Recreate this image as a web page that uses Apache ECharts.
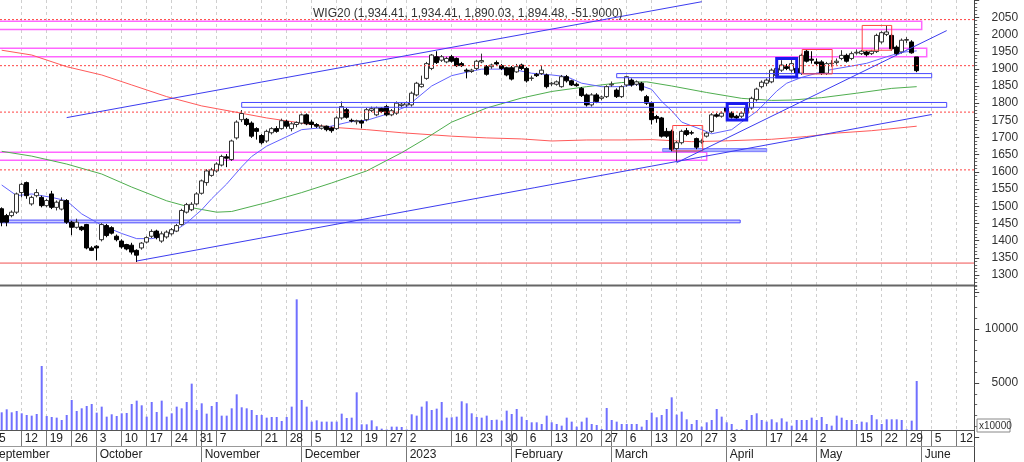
<!DOCTYPE html>
<html><head><meta charset="utf-8">
<script src="https://cdn.jsdelivr.net/npm/echarts@6/dist/echarts.min.js"></script>
<style>html,body{margin:0;padding:0;background:#fff}#c{width:1024px;height:462px}</style>
</head><body><div id="c"></div>
<script>
// ---------- categories (trading days) ----------
const holidays = ['2022-11-01','2022-11-11','2022-12-26','2023-01-06','2023-04-07','2023-04-10','2023-05-01','2023-05-03'];
function buildDates(from, to){
  const out=[]; const d=new Date(from+'T12:00:00Z'); const end=new Date(to+'T12:00:00Z');
  while(d<=end){ const w=d.getUTCDay(); const s=d.toISOString().slice(0,10);
    if(w!==0&&w!==6&&!holidays.includes(s)) out.push(s); d.setUTCDate(d.getUTCDate()+1); }
  return out;
}
// visible window starts 2022-09-06; the data arrays below start one trading day earlier (2022-09-05)
const dates = buildDates('2022-09-06','2023-06-15');
const OFF = -1;

// week tick labels (day of month) and month labels
const weekTicks = ['2022-09-12','2022-09-19','2022-09-26','2022-10-03','2022-10-10','2022-10-17','2022-10-24','2022-10-31','2022-11-07','2022-11-21','2022-11-28','2022-12-05','2022-12-12','2022-12-19','2022-12-27','2023-01-02','2023-01-16','2023-01-23','2023-01-30','2023-02-06','2023-02-13','2023-02-20','2023-02-27','2023-03-06','2023-03-13','2023-03-20','2023-03-27','2023-04-03','2023-04-17','2023-04-24','2023-05-02','2023-05-15','2023-05-22','2023-05-29','2023-06-05','2023-06-12'];
const monthStarts = ['2022-10-03','2022-11-02','2022-12-01','2023-01-02','2023-02-01','2023-03-01','2023-04-03','2023-05-02','2023-06-01'];
const monthLabels = ['October','November','December','2023','February','March','April','May','June'];
const firstWeekLabel = '5', firstMonthLabel = 'September'; // week of 2022-09-05, month starting before the window

const titleText = 'WIG20 (1,934.41, 1,934.41, 1,890.03, 1,894.48, -51.9000)';

// ---------- candles [open, high, low, close] from 2022-09-05 ----------
const candles = [
[1500,1505,1485,1495],[1493,1497,1442,1454],[1473,1478,1442,1454],[1473,1488,1468,1483],[1483,1540,1478,1536],
[1540,1568,1526,1564],[1569,1572,1522,1531],[1507,1531,1502,1526],[1531,1550,1526,1540],[1526,1531,1497,1502],
[1502,1521,1497,1517],[1536,1545,1492,1497],[1497,1517,1488,1512],[1492,1526,1488,1517],[1517,1521,1449,1454],
[1454,1458,1416,1439],[1439,1464,1435,1454],[1440,1443,1428,1432],[1447,1449,1375,1379],[1379,1384,1370,1372],
[1384,1387,1343,1379],[1403,1451,1398,1447],[1444,1449,1410,1415],[1438,1442,1418,1422],[1413,1418,1398,1403],
[1399,1404,1377,1382],[1389,1391,1372,1376],[1387,1394,1360,1367],[1372,1375,1338,1358],[1379,1396,1374,1393],
[1396,1413,1392,1409],[1413,1433,1408,1427],[1428,1432,1404,1409],[1399,1427,1394,1420],[1411,1430,1406,1425],
[1420,1437,1415,1432],[1428,1449,1425,1444],[1447,1493,1444,1488],[1483,1510,1479,1505],[1490,1512,1486,1506],
[1507,1541,1503,1536],[1538,1578,1534,1574],[1569,1608,1560,1603],[1590,1612,1586,1606],[1603,1628,1598,1623],
[1620,1650,1616,1645],[1644,1652,1614,1640],[1636,1694,1632,1690],[1699,1750,1694,1745],[1752,1780,1745,1770],
[1753,1757,1733,1738],[1742,1747,1699,1704],[1726,1730,1694,1718],[1706,1710,1680,1685],[1690,1723,1685,1718],
[1714,1730,1709,1726],[1726,1733,1714,1718],[1726,1755,1723,1749],[1747,1752,1726,1733],[1726,1745,1718,1740],
[1738,1747,1730,1744],[1742,1770,1738,1766],[1766,1770,1736,1740],[1745,1752,1728,1738],[1738,1742,1728,1733],
[1727,1738,1723,1733],[1733,1735,1718,1723],[1728,1732,1714,1720],[1726,1762,1722,1757],[1757,1805,1752,1790],
[1781,1786,1755,1759],[1750,1755,1744,1748],[1746,1752,1738,1749],[1748,1752,1727,1742],[1752,1786,1747,1781],
[1779,1790,1774,1784],[1766,1790,1762,1786],[1785,1788,1771,1776],[1790,1795,1762,1766],[1766,1783,1762,1778],
[1771,1805,1766,1800],[1793,1802,1788,1797],[1795,1805,1788,1801],[1795,1834,1790,1829],[1824,1862,1820,1858],
[1848,1880,1845,1855],[1872,1920,1868,1915],[1901,1943,1896,1940],[1935,1951,1914,1918],[1925,1940,1920,1935],
[1920,1935,1916,1930],[1935,1940,1918,1922],[1930,1933,1905,1909],[1915,1920,1905,1909],[1896,1901,1872,1893],
[1892,1900,1888,1896],[1901,1926,1896,1922],[1920,1944,1916,1924],[1906,1911,1880,1884],[1906,1915,1900,1911],
[1918,1924,1909,1914],[1909,1914,1896,1901],[1903,1906,1878,1882],[1903,1908,1866,1870],[1891,1914,1888,1906],
[1911,1915,1896,1901],[1901,1905,1860,1865],[1872,1880,1865,1873],[1884,1888,1876,1880],[1886,1908,1882,1896],
[1882,1886,1843,1848],[1856,1862,1850,1858],[1855,1866,1851,1862],[1848,1882,1845,1877],[1877,1882,1860,1865],
[1865,1868,1850,1853],[1855,1860,1848,1851],[1843,1847,1818,1822],[1824,1828,1790,1795],[1795,1829,1790,1824],
[1824,1829,1800,1805],[1814,1822,1808,1818],[1819,1852,1815,1848],[1853,1863,1848,1855],[1838,1843,1815,1819],
[1819,1852,1815,1848],[1853,1880,1848,1877],[1867,1872,1848,1853],[1855,1866,1850,1862],[1858,1862,1834,1838],
[1819,1824,1795,1800],[1800,1805,1738,1752],[1761,1766,1743,1755],[1757,1760,1700,1704],[1718,1728,1699,1704],
[1718,1723,1660,1666],[1668,1690,1632,1685],[1685,1723,1680,1718],[1720,1728,1704,1709],[1714,1720,1708,1713],
[1697,1700,1666,1672],[1687,1695,1682,1690],[1704,1716,1700,1713],[1718,1771,1714,1766],[1766,1771,1758,1762],
[1762,1776,1758,1771],[1786,1795,1771,1776],[1771,1776,1755,1759],[1762,1766,1753,1757],[1762,1776,1757,1771],
[1771,1790,1766,1786],[1786,1819,1781,1814],[1810,1845,1805,1841],[1848,1866,1843,1861],[1858,1872,1850,1867],
[1862,1901,1858,1896],[1880,1906,1875,1901],[1896,1925,1891,1911],[1906,1914,1896,1901],[1896,1926,1889,1915],
[1901,1906,1880,1888],[1887,1944,1882,1939],[1951,1956,1918,1922],[1928,1951,1915,1925],[1920,1930,1910,1915],
[1920,1925,1882,1887],[1887,1920,1882,1915],[1915,1925,1906,1916],[1918,1930,1912,1922],[1930,1954,1925,1939],
[1939,1944,1918,1922],[1930,1950,1925,1944],[1946,1956,1941,1948],[1944,1955,1940,1951],[1949,1953,1936,1941],
[1944,1955,1940,1951],[1950,2002,1946,1997],[1978,2009,1973,2005],[2000,2026,1995,2007],[1997,2002,1953,1958],
[1963,1968,1939,1944],[1949,1988,1944,1983],[1983,1992,1975,1985],[1978,1983,1944,1946.38],[1934.41,1934.41,1890.03,1894.48]
];

// ---------- volume (x10000) from 2022-09-05 ----------
const volume = [
2200,2286,2563,2286,2409,2193,2039,1977,2131,6575,1946,
1854,1792,1576,2039,3427,2409,2656,2872,3057,2255,
2810,1884,2101,1946,2193,2224,3057,3366,2934,1884,
3242,2317,3366,1884,2193,2810,2656,3242,4940,2502,
3119,2162,2872,3242,1977,1977,2656,3952,2750,2656,
2502,2039,2039,1792,1854,1854,1483,1854,2810,12747,
3427,2810,1422,1545,1422,1422,1422,1422,2162,1761,
1792,4137,1175,1175,1545,990,773,700,959,959,
928,700,2101,1977,2810,3304,2502,2625,3242,1792,
1823,1884,3304,3119,2193,1854,1792,1977,1576,1607,
1514,2440,2131,2594,1884,1576,1360,1360,1206,1977,
1360,1206,1051,1792,1422,959,1422,1792,1206,1113,
743,2687,1576,1422,1206,1206,1206,1206,959,1576,
2255,1823,2039,2594,3674,2070,2347,1638,1206,1576,
959,1360,1576,2594,1884,1360,1206,712,743,1576,
2039,2193,1576,1422,1638,1360,1730,1422,1051,1576,
1576,1576,1792,1576,1854,1206,1051,1977,1792,1576,
1576,1206,1422,1360,2039,1638,1206,1638,1638,1638,
1576,712,1514,5186
];
const volFloor = 650; // bottom of volume pane

// ---------- moving averages [dayIndex from 2022-09-05, value] ----------
const maShort = [[1,1562],[4,1531],[7,1536],[11,1526],[14,1516],[17,1478],[21,1445],[25,1421],[28,1406],[31,1406],[34,1416],[36,1432],[38,1452],[41,1490],[43,1522],[46,1565],[49,1615],[51,1645],[54,1675],[61,1723],[66,1730],[71,1747],[74,1750],[78,1768],[82,1790],[87,1850],[91,1880],[94,1890],[97,1899],[101,1899],[104,1896],[107,1887],[111,1882],[114,1877],[117,1858],[121,1848],[125,1848],[128,1855],[131,1840],[133,1805],[135,1778],[137,1745],[141,1723],[143,1711],[147,1723],[149,1745],[152,1776],[154,1805],[156,1835],[158,1858],[161,1875],[164,1887],[167,1898],[171,1908],[174,1916],[178,1935],[181,1948],[184,1952]];
const maMid = [[1,1660],[7,1646],[14,1623],[21,1594],[27,1556],[34,1516],[39,1496],[44,1483],[47,1485],[54,1511],[61,1540],[67,1568],[74,1603],[81,1656],[86,1699],[91,1745],[98,1786],[105,1815],[111,1834],[118,1848],[125,1860],[130,1862],[135,1850],[142,1831],[149,1814],[155,1808],[159,1809],[165,1816],[172,1829],[179,1843],[184,1848]];
const maLong = [[1,1954],[7,1940],[14,1906],[21,1882],[27,1853],[34,1819],[41,1792],[47,1776],[54,1757],[61,1742],[67,1730],[74,1723],[81,1714],[91,1704],[98,1699],[105,1696],[111,1690],[118,1693],[125,1693],[131,1694],[139,1688],[145,1690],[155,1695],[162,1703],[168,1713],[175,1720],[184,1733]];

// ---------- drawn studies [fromDay, toDay, low, high] / [day1, price1, day2, price2] ----------
const trendLines = [[14,1758,141,2095],[28,1341,187,1767],[136,1627,190,2011]];
const blueBoxes = [[49,190,1788,1802],[124,187,1874,1886]];
const blueBand = [[-2,148.7,1452,1460]];
const blueFill = [[133.2,154,1659,1668]];
const blueSquares = [[146.1,150,1751,1799],[156,160,1876,1930]];
const redBoxes = [[135.2,141.2,1661,1735],[161.1,167.1,1885,1956],[173.1,179,1954,2026]];
const pinkBoxes = [[-2,185,2014,2038],[-2,186,1935,1960],[-2,142,1634,1657]];
const redDotted = [2043,1909,1774,1606];
const redSolid = [1335];

// ---------- build ----------
const weekSet = new Set(weekTicks), monthSet = new Set(monthStarts);
const monthName = {}; monthStarts.forEach((d,i)=>monthName[d]=monthLabels[i]);
const FONT = 'Liberation Sans, Arial, sans-serif';

const kData = dates.map((d,i)=>{ const r = candles[i-OFF]; return r ? [r[0], r[3], r[2], r[1]] : ['-','-','-','-']; });

function P(api, x, y){ // fractional category position through the axis scale
  const i = Math.floor(x), f = x - i;
  const a = api.coord([i, y]), b = api.coord([i+1, y]);
  return [a[0] + (b[0]-a[0])*f, a[1]];
}
function rectSeries(rows, style, z){
  return { type:'custom', xAxisIndex:0, yAxisIndex:0, clip:false, silent:true, z:z||3,
    encode:{x:[0,1], y:[2,3]},
    data: rows.map(r=>[r[0]+OFF, r[1]+OFF, r[2], r[3]]),
    renderItem(params, api){
      const a = P(api, api.value(0), api.value(3)), b = P(api, api.value(1), api.value(2));
      return {type:'rect', shape:{x:a[0], y:a[1], width:b[0]-a[0], height:b[1]-a[1]}, style:Object.assign({}, style)};
    } };
}
function hLineSeries(vals, style){
  return { type:'custom', xAxisIndex:0, yAxisIndex:0, clip:false, silent:true, z:3,
    encode:{x:0, y:1}, data: vals.map(v=>[0, v]),
    renderItem(params, api){
      const y = api.coord([api.value(0), api.value(1)])[1]; const cs = params.coordSys;
      return {type:'line', shape:{x1:0, y1:y, x2:cs.x+cs.width+2.5, y2:y}, style:Object.assign({}, style)};
    } };
}
function maSeries(arr, color){
  return { type:'line', xAxisIndex:0, yAxisIndex:0, data: arr.map(p=>[p[0]+OFF, p[1]]), symbol:'none', silent:true, z:2,
    clip:false, lineStyle:{color, width:1} };
}
function catAxis(grid){ return {type:'category', gridIndex:grid, data:dates, boundaryGap:false, show:false}; }
const GRID_X = {left:1.7, right:52.3}; // categories are 5px apart; axis line pushed 2.5px right by offset

const option = {
  animation:false,
  backgroundColor:'#fff',
  title:{ text:titleText, left:308, top:3, textStyle:{fontSize:12, fontWeight:'normal', color:'#333', fontFamily:FONT} },
  grid:[
    Object.assign({top:-2.3, height:294.6}, GRID_X),
    Object.assign({top:275, height:162}, GRID_X),
    Object.assign({top:0, height:430}, GRID_X)
  ],
  xAxis:[
    catAxis(0), catAxis(1),
    {type:'category', gridIndex:2, data:dates, boundaryGap:false, position:'bottom',
      axisLine:{lineStyle:{color:'#555', width:1}},
      axisTick:{show:true, length:16, interval:(i,v)=>weekSet.has(v)||monthSet.has(v), lineStyle:{color:'#777'}},
      axisLabel:{interval:(i,v)=>weekSet.has(v), formatter:v=>String(+v.slice(8)), align:'left', padding:[0,0,0,3], margin:3,
        fontSize:12, color:'#222', fontFamily:FONT},
      splitLine:{show:true, interval:(i,v)=>weekSet.has(v), lineStyle:{color:'#cfcfcf', type:[3,3], width:1}}},
    {type:'category', gridIndex:2, data:dates, boundaryGap:false, position:'bottom', offset:16,
      axisLine:{lineStyle:{color:'#999', width:1}},
      axisTick:{show:true, length:16, interval:(i,v)=>monthSet.has(v), lineStyle:{color:'#777'}},
      axisLabel:{interval:(i,v)=>monthSet.has(v), formatter:v=>monthName[v]||'', align:'left', padding:[0,0,0,3], margin:3,
        fontSize:12, color:'#222', fontFamily:FONT},
      splitLine:{show:false}}
  ],
  yAxis:[
    {type:'value', gridIndex:0, position:'right', offset:2.5, min:1250, max:2100, interval:50,
      axisLine:{show:false}, axisTick:{show:true, length:5, lineStyle:{color:'#444'}},
      minorTick:{show:true, splitNumber:5, length:3, lineStyle:{color:'#666'}},
      axisLabel:{formatter:v=>(v>=1300&&v<=2050)?String(v):'', align:'right', margin:44, fontSize:12, color:'#333', fontFamily:FONT},
      splitLine:{show:false}},
    {type:'value', gridIndex:1, position:'right', offset:2.5, min:0, max:15000, interval:5000,
      axisLine:{show:false}, axisTick:{show:true, length:5, lineStyle:{color:'#444'}},
      minorTick:{show:true, splitNumber:5, length:3, lineStyle:{color:'#666'}},
      axisLabel:{formatter:v=>(v===5000||v===10000)?String(v):'', align:'right', margin:44, fontSize:12, color:'#333', fontFamily:FONT},
      splitLine:{show:false}},
    {type:'value', gridIndex:2, show:false}
  ],
  series:[
    rectSeries(pinkBoxes, {fill:'none', stroke:'#ff66ff', lineWidth:1.5}, 1),
    rectSeries(blueBand, {fill:'rgba(110,110,255,0.35)', stroke:'#4a4aff', lineWidth:1}, 1),
    rectSeries(blueFill, {fill:'#a9b0ff', stroke:'#7c7cff', lineWidth:1}, 1),
    hLineSeries(redDotted, {stroke:'#ff4040', lineWidth:1, lineDash:[2,2]}),
    hLineSeries(redSolid, {stroke:'#f05050', lineWidth:1}),
    {type:'candlestick', xAxisIndex:0, yAxisIndex:0, data:kData, barWidth:4, z:2, silent:true, clip:false,
      itemStyle:{color:'#ffffff', color0:'#000000', borderColor:'#333333', borderColor0:'#000000', borderWidth:1}},
    maSeries(maLong, '#ff5a5a'),
    maSeries(maMid, '#4fae4f'),
    maSeries(maShort, '#6262ff'),
    rectSeries(blueBoxes, {fill:'none', stroke:'#4a4aff', lineWidth:1}, 3),
    rectSeries(redBoxes, {fill:'none', stroke:'#ff4545', lineWidth:1}, 3),
    rectSeries(blueSquares, {fill:'none', stroke:'#1a1aee', lineWidth:3}, 4),
    { type:'custom', xAxisIndex:0, yAxisIndex:0, clip:false, silent:true, z:3,
      encode:{x:[0,2], y:[1,3]},
      data: trendLines.map(t=>[t[0]+OFF, t[1], t[2]+OFF, t[3]]),
      renderItem(params, api){
        const a = api.coord([api.value(0), api.value(1)]), b = api.coord([api.value(2), api.value(3)]);
        return {type:'line', shape:{x1:a[0], y1:a[1], x2:b[0], y2:b[1]}, style:{stroke:'#3c3cf0', lineWidth:1}};
      } },
    { type:'custom', xAxisIndex:1, yAxisIndex:1, silent:true, z:2, clip:false,
      encode:{x:0, y:1}, data: volume.map((v,j)=>[j+OFF, v]),
      renderItem(params, api){
        const x = api.value(0), v = api.value(1); if (!(v > volFloor)) return null;
        const t = api.coord([x, v]), b = api.coord([x, volFloor]);
        return {type:'rect', shape:{x:t[0]-1, y:t[1], width:2, height:b[1]-t[1]}, style:{fill:'#7070ff'}};
      } }
  ],
  graphic:[
    {type:'line', shape:{x1:0, y1:285.5, x2:974.5, y2:285.5}, style:{stroke:'#666', lineWidth:2}, z:10},
    {type:'line', shape:{x1:974.5, y1:0, x2:974.5, y2:462}, style:{stroke:'#444', lineWidth:1}, z:10},
    {type:'line', shape:{x1:0, y1:430.5, x2:974.5, y2:430.5}, style:{stroke:'#555', lineWidth:1}, z:10},
    {type:'line', shape:{x1:0, y1:446.5, x2:974.5, y2:446.5}, style:{stroke:'#999', lineWidth:1}, z:10},
    {type:'text', x:-1, y:433, style:{text:firstWeekLabel, font:'12px '+FONT, fill:'#222'}, z:10},
    {type:'text', x:-9, y:449, style:{text:firstMonthLabel, font:'12px '+FONT, fill:'#222'}, z:10},
    {type:'rect', shape:{x:977, y:419, width:33, height:13}, style:{fill:'#fff', stroke:'#888', lineWidth:1}, z:10},
    {type:'text', x:979, y:421, style:{text:'x10000', font:'10px '+FONT, fill:'#333'}, z:11}
  ]
};
const chart = echarts.init(document.getElementById('c'), null, {renderer:'canvas'});
chart.setOption(option);
</script>
</body></html>
